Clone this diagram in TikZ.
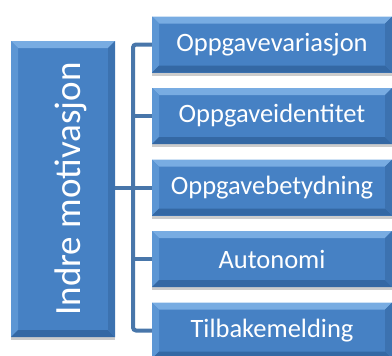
\documentclass[tikz,border=0pt]{standalone}
\usepackage{fontspec}
\setmainfont{Carlito}
\usetikzlibrary{shadows}
\definecolor{boxmid}{RGB}{70,129,196}
\definecolor{boxlight}{RGB}{120,172,226}
\definecolor{boxside}{RGB}{92,150,212}
\definecolor{boxdark}{RGB}{52,104,164}
\definecolor{boxrdark}{RGB}{60,114,176}
\definecolor{linec}{RGB}{72,118,170}
\tikzset{
  bevelbox/.style={rectangle, inner sep=0pt, fill=boxmid, text=white,
    drop shadow={shadow xshift=0pt, shadow yshift=-3pt, opacity=0.2, fill=black},
    path picture={
      \coordinate (nw) at (path picture bounding box.north west);
      \coordinate (ne) at (path picture bounding box.north east);
      \coordinate (sw) at (path picture bounding box.south west);
      \coordinate (se) at (path picture bounding box.south east);
      \fill[boxlight] (nw) -- (ne) -- ([shift={(-7pt,-7pt)}]ne) -- ([shift={(7pt,-7pt)}]nw) -- cycle;
      \fill[boxside] (nw) -- ([shift={(7pt,-7pt)}]nw) -- ([shift={(7pt,7pt)}]sw) -- (sw) -- cycle;
      \fill[boxdark] (sw) -- ([shift={(7pt,7pt)}]sw) -- ([shift={(-7pt,7pt)}]se) -- (se) -- cycle;
      \fill[boxrdark] (ne) -- ([shift={(-7pt,-7pt)}]ne) -- ([shift={(-7pt,7pt)}]se) -- (se) -- cycle;
    }},
  leaf/.style={bevelbox, minimum width=240pt, minimum height=56pt, font=\fontsize{26.5}{30}\selectfont},
  conn/.style={draw=linec, line width=4pt}
}
\begin{document}
\begin{tikzpicture}[x=1pt,y=-1pt]
\useasboundingbox (0,0) rectangle (392,356);
\begin{scope}
\clip (0,0) rectangle (392,356);
\node[bevelbox, minimum width=104pt, minimum height=296pt] (main) at (63,189) {};
\node[rotate=90, text=white, font=\fontsize{37}{42}\selectfont] (mainlabel) at (71,189) {Indre motivasjon};
\node[leaf] (b1) at (272,44.5) {Oppgavevariasjon};
\node[leaf] (b2) at (272,116) {Oppgaveidentitet};
\node[leaf] (b3) at (272,187.5) {Oppgavebetydning};
\node[leaf] (b4) at (272,259) {Autonomi};
\node[leaf] (b5) at (272,330.5) {Tilbakemelding};
\coordinate (j) at (133,187.5);
\draw[conn, rounded corners=3pt] (b1.west) -| (j) |- (b5.west);
\draw[conn] (b2.west -| j) -- (b2.west);
\draw[conn] (b4.west -| j) -- (b4.west);
\draw[conn] (main.east |- b3.west) -- (b3.west);
\end{scope}
\end{tikzpicture}
\end{document}
